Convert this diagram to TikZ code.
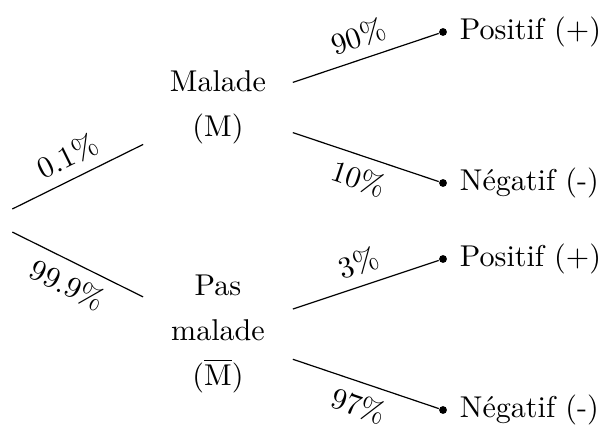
\documentclass[tikz,border=0pt]{standalone}
\usepackage{fontspec}
\begin{document}
\begin{tikzpicture}[x=0.33223pt, y=-0.33223pt,
  state/.style={text width=1.5cm, align=center, inner sep=3.33pt, font=\fontsize{10pt}{15pt}\selectfont},
  rootnode/.style={inner sep=0pt, minimum width=15.1pt, minimum height=12pt},
  leaf/.style={circle, fill, inner sep=0pt, minimum size=2.6pt},
  leaftext/.style={anchor=west, inner sep=3.33pt, xshift=0.6pt},
  prob/.style={sloped, midway}]
\useasboundingbox (0,0) rectangle (608,426);
\node[rootnode] (r) at (-11,220.5) {};
\node[state] (m) at (218,107.5) {Malade\\(M)};
\node[state] (nm) at (218,334) {Pas\\malade\\($\overline{\mathrm{M}}$)};
\node[leaf] (a) at (443,32) {};
\node[leaf] (b) at (443,183) {};
\node[leaf] (c) at (443,259) {};
\node[leaf] (d) at (443,410) {};
\node[leaftext] (at) at (a.east) {Positif (+)};
\node[leaftext] (bt) at (b.east) {Négatif (-)};
\node[leaftext] (ct) at (c.east) {Positif (+)};
\node[leaftext] (dt) at (d.east) {Négatif (-)};
\draw (r) -- node[prob, above] {0.1\%} (m);
\draw (r) -- node[prob, below] {99.9\%} (nm);
\draw (m) -- node[prob, above] {90\%} (a);
\draw (m) -- node[prob, below] {10\%} (b);
\draw (nm) -- node[prob, above] {3\%} (c);
\draw (nm) -- node[prob, below] {97\%} (d);
\end{tikzpicture}
\end{document}
